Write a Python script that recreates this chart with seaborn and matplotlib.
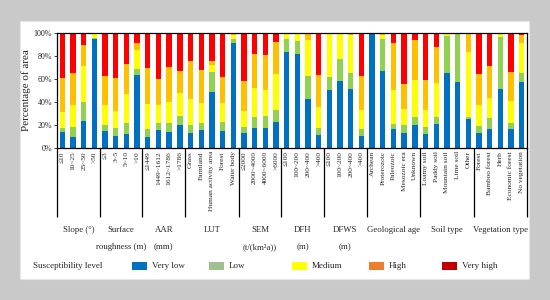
import numpy as np
import pandas as pd
import matplotlib
matplotlib.use("Agg")
import matplotlib.pyplot as plt
from matplotlib.patches import Rectangle
from matplotlib.ticker import PercentFormatter
import seaborn as sns

# categories (bar labels) and factor groups
labels = ["≤10", "10~25", "25~50", ">50",
          "≤3", "3~5", "5~10", ">10",
          "≤1449", "1449~1612", "1612~1786", ">1786",
          "Grass", "Farmland", "Human activity area", "Forest", "Water body",
          "≤2000", "2000~4000", "4000~6000", ">6000",
          "≤100", "100~200", "200~400", ">400",
          "≤100", "100~200", "200~400", ">400",
          "Archean", "Proterozoic", "Paleozoic", "Mesozoic era", "Unknown",
          "Loamy soil", "Paddy soil", "Mountain soil", "Lime soil", "Other",
          "Forest", "Bamboo forest", "Herb", "Economic forest", "No vegetation"]
group_names = [("Slope (°)", ""), ("Surface", "roughness (m)"), ("AAR", "(mm)"),
               ("LUT", ""), ("SEM", "(t/(km²a))"), ("DFH", "(m)"), ("DFWS", "(m)"),
               ("Geological age", ""), ("Soil type", ""), ("Vegetation type", "")]
group_sizes = [4, 4, 4, 5, 4, 4, 4, 5, 5, 5]

# percentage of area per susceptibility level
very_low = [14.4, 10.1, 23.9, 94.2, 15.0, 10.7, 12.4, 63.4, 10.1, 15.9, 14.3, 20.5,
            13.2, 16.0, 48.8, 15.4, 91.1, 13.4, 17.7, 17.7, 23.0, 83.3, 81.9, 43.0,
            12.0, 50.8, 58.6, 51.7, 11.1, 100.0, 67.2, 16.8, 13.4, 20.6, 12.5, 21.4,
            65.6, 57.1, 25.8, 13.0, 16.7, 51.0, 16.7, 57.1]
low = [3.5, 8.1, 16.4, 1.0, 5.2, 7.2, 9.8, 5.2, 6.3, 5.7, 7.5, 7.5,
       6.9, 6.0, 17.5, 7.5, 3.4, 5.2, 9.5, 10.1, 10.3, 11.2, 10.6, 19.9,
       5.7, 10.6, 18.7, 13.5, 6.0, 0.0, 27.3, 4.4, 6.6, 6.3, 6.1, 5.8,
       31.6, 42.9, 1.1, 6.3, 9.2, 45.0, 4.9, 7.7]
medium = [13.8, 19.3, 31.2, 4.8, 17.3, 14.7, 24.5, 16.4, 21.9, 15.9, 18.0, 20.0,
          22.6, 17.4, 6.1, 16.4, 3.8, 14.1, 25.0, 23.0, 31.0, 5.2, 7.2, 31.1,
          18.1, 38.3, 22.4, 33.1, 16.4, 0.0, 3.2, 29.0, 14.1, 32.5, 14.9, 29.3,
          2.8, 0.0, 56.4, 18.2, 17.3, 4.0, 19.3, 26.0]
high = [29.4, 27.3, 17.8, 0.0, 25.0, 28.5, 25.9, 6.4, 31.4, 22.4, 30.7, 19.0,
        33.1, 28.5, 2.9, 22.4, 1.1, 25.3, 29.7, 30.2, 27.8, 0.3, 0.3, 5.7,
        27.9, 0.3, 0.3, 1.7, 29.4, 0.0, 1.4, 40.9, 21.9, 34.6, 25.9, 31.1,
        0.0, 0.0, 16.7, 26.8, 28.3, 0.0, 24.8, 7.2]

levels = ["Very low", "Low", "Medium", "High", "Very high"]
bar_colors = ["#0070C0", "#92D050", "#FFFF00", "#FFC000", "#FF0000"]
legend_colors = ["#0070C0", "#A0C090", "#FFFF00", "#ED7D31", "#C00000"]

df = pd.DataFrame({"pos": np.arange(len(labels)), "Very low": very_low, "Low": low,
                   "Medium": medium, "High": high})
df["Very high"] = 100 - df[["Very low", "Low", "Medium", "High"]].sum(axis=1)
cum = df[levels].cumsum(axis=1)

sns.set_style("white")
plt.rcParams["font.family"] = ["Liberation Serif", "DejaVu Serif"]

fig = plt.figure(figsize=(5.5, 3), dpi=100, facecolor="#C9C9C9")
fig.patches.append(Rectangle((20 / 550, 1 - 279 / 300), 509 / 550, 258 / 300,
                             transform=fig.transFigure, facecolor="white",
                             edgecolor="#E6E6E6", lw=0.8, zorder=-5))
ax = fig.add_axes([57 / 550, 1 - 148.4 / 300, 470 / 550, 115.7 / 300])
ax.set_facecolor("none")

# draw stacked bars as overlapping cumulative bars, top level first
for lev, col in zip(levels[::-1], bar_colors[::-1]):
    sns.barplot(x=df["pos"], y=cum[lev], color=col, width=0.5,
                saturation=1, linewidth=0, ax=ax)

ax.set_ylim(0, 100)
ax.set_xlim(-0.5, len(labels) - 0.5)
ax.yaxis.set_major_formatter(PercentFormatter(decimals=0))
ax.set_yticks(range(0, 101, 20))
ax.set_ylabel("Percentage of area", fontsize=8, labelpad=2)
ax.set_xlabel("")
ax.set_xticks(range(len(labels)))
ax.set_xticklabels(labels, rotation=90, fontsize=5.3)
ax.tick_params(axis="x", length=0, pad=2)
ax.tick_params(axis="y", labelsize=5.8, length=2, width=0.6, direction="out",
               left=True, pad=1.5)
for s in ax.spines.values():
    s.set_visible(True)
    s.set_color("black")
    s.set_linewidth(0.9)

# group separators and group labels below the axis
edges = np.concatenate([[0], np.cumsum(group_sizes)]) - 0.5
ax.vlines(edges, -0.593, 0, transform=ax.get_xaxis_transform(),
          colors="black", lw=0.9, clip_on=False)
for (l1, l2), a, b in zip(group_names, edges[:-1], edges[1:]):
    xc = (a + b) / 2
    ax.text(xc, -0.705, l1, transform=ax.get_xaxis_transform(),
            ha="center", va="center", fontsize=6.3)
    if l2:
        ax.text(xc, -0.852, l2, transform=ax.get_xaxis_transform(),
                ha="center", va="center", fontsize=6.3)

# legend row
ly = 1 - 266 / 300
fig.text(33 / 550, ly, "Susceptibility level", fontsize=6.5, va="center")
patch_x = [132, 209, 292, 369, 442]
for px, lev, col in zip(patch_x, levels, legend_colors):
    fig.patches.append(Rectangle((px / 550, ly - 4 / 300), 15 / 550, 8 / 300,
                                 transform=fig.transFigure, facecolor=col,
                                 edgecolor="none", zorder=2))
    fig.text((px + 20) / 550, ly, lev, fontsize=6.5, va="center")

fig.savefig("out.png", dpi=100, facecolor=fig.get_facecolor())
